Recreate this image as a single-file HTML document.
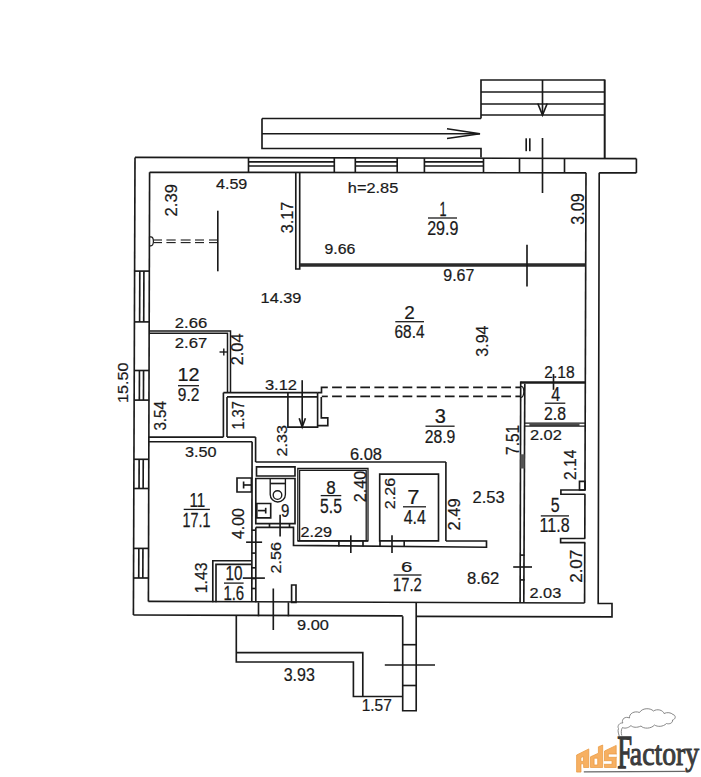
<!DOCTYPE html>
<html><head><meta charset="utf-8"><style>
html,body{margin:0;padding:0;background:#fff;}
svg{display:block;}
text{font-family:"Liberation Sans",sans-serif;}
</style></head><body>
<svg width="701" height="777" viewBox="0 0 701 777">
<rect width="701" height="777" fill="#ffffff"/>
<path d="M481,118.5 L481,80 L604.7,80" fill="none" stroke="#1a1a1a" stroke-width="1.65" stroke-linejoin="miter"/>
<line x1="604.7" y1="79.5" x2="604.7" y2="158.3" stroke="#1a1a1a" stroke-width="2" />
<line x1="481" y1="92" x2="604.7" y2="92" stroke="#1a1a1a" stroke-width="1.65" />
<line x1="481" y1="104" x2="604.7" y2="104" stroke="#1a1a1a" stroke-width="1.65" />
<line x1="481" y1="115" x2="604.7" y2="115" stroke="#1a1a1a" stroke-width="1.65" />
<line x1="542.5" y1="80" x2="542.5" y2="115" stroke="#1a1a1a" stroke-width="1.65" />
<path d="M537.8,103.5 L542.5,115 L547.2,103.5" fill="none" stroke="#1a1a1a" stroke-width="1.65" stroke-linejoin="miter"/>
<line x1="262" y1="118.5" x2="481" y2="118.5" stroke="#1a1a1a" stroke-width="1.65" />
<path d="M481,157.5 L481,148.5 L262,148.5 L262,118.5" fill="none" stroke="#1a1a1a" stroke-width="1.65" stroke-linejoin="miter"/>
<line x1="262" y1="133.7" x2="480" y2="133.7" stroke="#1a1a1a" stroke-width="1.65" />
<path d="M447,128.8 L480,133.7 L447,138.5" fill="none" stroke="#1a1a1a" stroke-width="1.65" stroke-linejoin="miter"/>
<line x1="542.5" y1="138" x2="542.5" y2="193" stroke="#1a1a1a" stroke-width="1.65" />
<line x1="526.2" y1="138.3" x2="526.2" y2="151.2" stroke="#1a1a1a" stroke-width="1.65" />
<line x1="529.8" y1="138.3" x2="529.8" y2="151.2" stroke="#1a1a1a" stroke-width="1.65" />
<line x1="135.0" y1="157.4" x2="636.4" y2="158.6" stroke="#1a1a1a" stroke-width="1.65" />
<line x1="149.6" y1="172.3" x2="586.0" y2="172.8" stroke="#1a1a1a" stroke-width="1.65" />
<line x1="599.2" y1="172.8" x2="636.4" y2="172.9" stroke="#1a1a1a" stroke-width="1.65" />
<line x1="636.4" y1="158.6" x2="636.4" y2="172.9" stroke="#1a1a1a" stroke-width="1.65" />
<line x1="248.5" y1="157.6736" x2="248.5" y2="172.40945000000002" stroke="#1a1a1a" stroke-width="1.65" />
<line x1="334.3" y1="157.87952" x2="334.3" y2="172.50383000000002" stroke="#1a1a1a" stroke-width="1.65" />
<line x1="355.3" y1="157.92992" x2="355.3" y2="172.52693000000002" stroke="#1a1a1a" stroke-width="1.65" />
<line x1="397.2" y1="158.03048" x2="397.2" y2="172.57302" stroke="#1a1a1a" stroke-width="1.65" />
<line x1="424.4" y1="158.09576" x2="424.4" y2="172.60294000000002" stroke="#1a1a1a" stroke-width="1.65" />
<line x1="483.5" y1="158.23760000000001" x2="483.5" y2="172.66795000000002" stroke="#1a1a1a" stroke-width="1.65" />
<line x1="519.5" y1="158.324" x2="519.5" y2="172.70755" stroke="#1a1a1a" stroke-width="1.65" />
<line x1="564.5" y1="158.43200000000002" x2="564.5" y2="172.75705000000002" stroke="#1a1a1a" stroke-width="1.65" />
<line x1="248.5" y1="161.8" x2="334.3" y2="161.8" stroke="#1a1a1a" stroke-width="1.65" />
<line x1="248.5" y1="166" x2="334.3" y2="166" stroke="#1a1a1a" stroke-width="1.65" />
<line x1="355.3" y1="161.8" x2="397.2" y2="161.8" stroke="#1a1a1a" stroke-width="1.65" />
<line x1="355.3" y1="166" x2="397.2" y2="166" stroke="#1a1a1a" stroke-width="1.65" />
<line x1="424.4" y1="161.8" x2="483.5" y2="161.8" stroke="#1a1a1a" stroke-width="1.65" />
<line x1="424.4" y1="166" x2="483.5" y2="166" stroke="#1a1a1a" stroke-width="1.65" />
<line x1="135.0" y1="157.4" x2="133.3984" y2="615" stroke="#1a1a1a" stroke-width="1.65" />
<line x1="149.6" y1="172.3" x2="148.39852" y2="601.4" stroke="#1a1a1a" stroke-width="1.65" />
<line x1="134.60205" y1="271.1" x2="149.32336" y2="271.1" stroke="#1a1a1a" stroke-width="1.65" />
<line x1="134.42425" y1="321.9" x2="149.18112" y2="321.9" stroke="#1a1a1a" stroke-width="1.65" />
<line x1="139.80204999999998" y1="271.1" x2="139.62425" y2="321.9" stroke="#1a1a1a" stroke-width="1.65" />
<line x1="143.90205" y1="271.1" x2="143.72425" y2="321.9" stroke="#1a1a1a" stroke-width="1.65" />
<line x1="134.25415" y1="370.5" x2="149.04504" y2="370.5" stroke="#1a1a1a" stroke-width="1.65" />
<line x1="134.15055" y1="400.1" x2="148.96215999999998" y2="400.1" stroke="#1a1a1a" stroke-width="1.65" />
<line x1="139.45415" y1="370.5" x2="139.35055" y2="400.1" stroke="#1a1a1a" stroke-width="1.65" />
<line x1="143.55415000000002" y1="370.5" x2="143.45055000000002" y2="400.1" stroke="#1a1a1a" stroke-width="1.65" />
<line x1="133.94335" y1="459.3" x2="148.7964" y2="459.3" stroke="#1a1a1a" stroke-width="1.65" />
<line x1="133.84115" y1="488.5" x2="148.71464" y2="488.5" stroke="#1a1a1a" stroke-width="1.65" />
<line x1="139.14335" y1="459.3" x2="139.04115" y2="488.5" stroke="#1a1a1a" stroke-width="1.65" />
<line x1="143.24335000000002" y1="459.3" x2="143.14115" y2="488.5" stroke="#1a1a1a" stroke-width="1.65" />
<line x1="133.6315" y1="548.4" x2="148.54692" y2="548.4" stroke="#1a1a1a" stroke-width="1.65" />
<line x1="133.5279" y1="578.0" x2="148.46403999999998" y2="578.0" stroke="#1a1a1a" stroke-width="1.65" />
<line x1="138.83149999999998" y1="548.4" x2="138.72789999999998" y2="578.0" stroke="#1a1a1a" stroke-width="1.65" />
<line x1="142.9315" y1="548.4" x2="142.8279" y2="578.0" stroke="#1a1a1a" stroke-width="1.65" />
<line x1="586.0" y1="172.8" x2="584.95324" y2="490" stroke="#1a1a1a" stroke-width="1.65" />
<line x1="584.93938" y1="494.2" x2="584.79319" y2="538.5" stroke="#1a1a1a" stroke-width="1.65" />
<line x1="584.77966" y1="542.6" x2="584.58034" y2="603" stroke="#1a1a1a" stroke-width="1.65" />
<path d="M599.2,172.8 L598.2093900000001,603.5 L612,603.5 L612,616.8 L416.2,616.4" fill="none" stroke="#1a1a1a" stroke-width="1.65" stroke-linejoin="miter"/>
<line x1="133.3984" y1="615" x2="402.7" y2="615.9" stroke="#1a1a1a" stroke-width="1.65" />
<line x1="148.39852" y1="601.4" x2="584.58034" y2="603" stroke="#1a1a1a" stroke-width="1.65" />
<line x1="258.5" y1="602.3" x2="258.5" y2="616.3" stroke="#1a1a1a" stroke-width="1.65" />
<line x1="288.4" y1="602.3" x2="288.4" y2="616.3" stroke="#1a1a1a" stroke-width="1.65" />
<path d="M291.6,585 L296,585 L296,602.3 L291.6,602.3Z" fill="none" stroke="#1a1a1a" stroke-width="1.65" stroke-linejoin="miter"/>
<line x1="273.3" y1="588.5" x2="273.3" y2="630" stroke="#1a1a1a" stroke-width="1.65" />
<path d="M236.3,615.5 L236.3,662 L353.4,662 L353.4,696.5 L402.7,696.5" fill="none" stroke="#1a1a1a" stroke-width="1.65" stroke-linejoin="miter"/>
<path d="M236.3,652.6 L362.8,652.6 L362.8,696.5" fill="none" stroke="#1a1a1a" stroke-width="1.65" stroke-linejoin="miter"/>
<path d="M402.7,616.3 L402.7,710.7 L416.2,710.7 L416.2,602.5" fill="none" stroke="#1a1a1a" stroke-width="1.65" stroke-linejoin="miter"/>
<line x1="402.7" y1="644.7" x2="416.2" y2="644.7" stroke="#1a1a1a" stroke-width="1.65" />
<line x1="402.7" y1="685.5" x2="416.2" y2="685.5" stroke="#1a1a1a" stroke-width="1.65" />
<line x1="384.8" y1="665" x2="435" y2="665" stroke="#1a1a1a" stroke-width="1.65" />
<path d="M295.8,172.5 L295.8,269 L299.7,269 L299.7,172.5" fill="none" stroke="#1a1a1a" stroke-width="1.65" stroke-linejoin="miter"/>
<line x1="299.7" y1="265" x2="585.3" y2="265" stroke="#2a2a2a" stroke-width="3.4" />
<line x1="527" y1="244.7" x2="527" y2="286.4" stroke="#1a1a1a" stroke-width="1.65" />
<line x1="153.6" y1="240" x2="162" y2="240" stroke="#1a1a1a" stroke-width="1.1" />
<line x1="153.6" y1="242.6" x2="162" y2="242.6" stroke="#1a1a1a" stroke-width="1.1" />
<line x1="166.4" y1="240" x2="175.7" y2="240" stroke="#1a1a1a" stroke-width="1.1" />
<line x1="166.4" y1="242.6" x2="175.7" y2="242.6" stroke="#1a1a1a" stroke-width="1.1" />
<line x1="180.7" y1="240" x2="190.6" y2="240" stroke="#1a1a1a" stroke-width="1.1" />
<line x1="180.7" y1="242.6" x2="190.6" y2="242.6" stroke="#1a1a1a" stroke-width="1.1" />
<line x1="195" y1="240" x2="204" y2="240" stroke="#1a1a1a" stroke-width="1.1" />
<line x1="195" y1="242.6" x2="204" y2="242.6" stroke="#1a1a1a" stroke-width="1.1" />
<line x1="209" y1="240" x2="217.8" y2="240" stroke="#1a1a1a" stroke-width="1.1" />
<line x1="209" y1="242.6" x2="217.8" y2="242.6" stroke="#1a1a1a" stroke-width="1.1" />
<path d="M149.5,236.8 h1.3 a2.6,4.5 0 0 1 0,9 h-1.3" fill="none" stroke="#1a1a1a" stroke-width="1.2"/>
<line x1="217.8" y1="210.7" x2="217.8" y2="271.3" stroke="#1a1a1a" stroke-width="1.65" />
<path d="M149,331.1 L230.5,331.1 L230.5,392.6" fill="none" stroke="#1a1a1a" stroke-width="1.5" stroke-linejoin="miter"/>
<path d="M149,333.3 L227.5,333.3 L227.5,392.6" fill="none" stroke="#1a1a1a" stroke-width="1.5" stroke-linejoin="miter"/>
<line x1="219.5" y1="352" x2="227.5" y2="352" stroke="#1a1a1a" stroke-width="1.4" />
<line x1="223.8" y1="348.5" x2="223.8" y2="355.5" stroke="#1a1a1a" stroke-width="1.4" />
<line x1="223.4" y1="392.6" x2="317.6" y2="392.6" stroke="#1a1a1a" stroke-width="1.65" />
<line x1="227" y1="396.9" x2="317.6" y2="396.9" stroke="#1a1a1a" stroke-width="1.65" />
<line x1="223.4" y1="392.6" x2="223.4" y2="437.1" stroke="#1a1a1a" stroke-width="1.65" />
<line x1="227" y1="396.9" x2="227" y2="437.1" stroke="#1a1a1a" stroke-width="1.65" />
<line x1="149" y1="437.1" x2="223.4" y2="437.1" stroke="#1a1a1a" stroke-width="1.65" />
<line x1="227" y1="437.1" x2="255.6" y2="437.1" stroke="#1a1a1a" stroke-width="1.65" />
<line x1="149" y1="441.7" x2="252.1" y2="441.7" stroke="#1a1a1a" stroke-width="1.65" />
<line x1="252.1" y1="441.7" x2="251.8" y2="601.6" stroke="#1a1a1a" stroke-width="1.65" />
<line x1="255.6" y1="437.1" x2="255.6" y2="462" stroke="#1a1a1a" stroke-width="1.65" />
<line x1="255.6" y1="462" x2="445.9" y2="462" stroke="#1a1a1a" stroke-width="1.65" />
<line x1="445.9" y1="462" x2="445.9" y2="541" stroke="#1a1a1a" stroke-width="1.65" />
<path d="M287.9,392.6 L287.9,427.1 L317.6,427.1 L317.6,392.6" fill="none" stroke="#1a1a1a" stroke-width="1.65" stroke-linejoin="miter"/>
<line x1="302.2" y1="380.2" x2="302.2" y2="427.1" stroke="#1a1a1a" stroke-width="1.65" />
<path d="M299.2,418.3 L302.2,427.1 L305.4,418.3" fill="none" stroke="#1a1a1a" stroke-width="1.65" stroke-linejoin="miter"/>
<path d="M317.6,392.6 L321.5,392.6 L321.5,387.3 L327.8,387.3" fill="none" stroke="#1a1a1a" stroke-width="1.65" stroke-linejoin="miter"/>
<path d="M321.3,396.9 L321.3,417.8 L327.8,417.8 L327.8,425.6 L317.6,425.6" fill="none" stroke="#1a1a1a" stroke-width="1.65" stroke-linejoin="miter"/>
<line x1="332.1" y1="387.3" x2="520.5" y2="387.3" stroke="#1a1a1a" stroke-width="1.65" stroke-dasharray="9.7 4.4"/>
<line x1="332.1" y1="396.4" x2="520.5" y2="396.4" stroke="#1a1a1a" stroke-width="1.65" stroke-dasharray="9.7 4.4"/>
<path d="M321.8,396.4 L327.8,396.4" fill="none" stroke="#1a1a1a" stroke-width="1.65" stroke-linejoin="miter"/>
<path d="M520.4,386.3 h0.8 a2.6,5.5 0 0 1 0,11 h-0.8" fill="none" stroke="#1a1a1a" stroke-width="1.2"/>
<path d="M212.8,602.3 L212.8,560.7 L251.7,560.7" fill="none" stroke="#1a1a1a" stroke-width="1.65" stroke-linejoin="miter"/>
<path d="M216,602.3 L216,564.3 L251.7,564.3" fill="none" stroke="#1a1a1a" stroke-width="1.65" stroke-linejoin="miter"/>
<path d="M237,478 L251.4,478 L251.4,492 L237,492Z" fill="none" stroke="#1a1a1a" stroke-width="1.65" stroke-linejoin="miter"/>
<line x1="243.6" y1="485" x2="251.4" y2="485" stroke="#1a1a1a" stroke-width="1.65" />
<line x1="243.6" y1="481.5" x2="243.6" y2="488.5" stroke="#1a1a1a" stroke-width="1.65" />
<line x1="255.8" y1="527.4" x2="255.8" y2="602.3" stroke="#1a1a1a" stroke-width="1.65" />
<line x1="251.7" y1="530.2" x2="255.8" y2="530.2" stroke="#1a1a1a" stroke-width="1.65" />
<line x1="251.7" y1="553.1" x2="255.8" y2="553.1" stroke="#1a1a1a" stroke-width="1.65" />
<line x1="251.7" y1="567.8" x2="255.8" y2="567.8" stroke="#1a1a1a" stroke-width="1.65" />
<line x1="251.7" y1="578.5" x2="255.8" y2="578.5" stroke="#1a1a1a" stroke-width="1.65" />
<line x1="251.7" y1="588.5" x2="255.8" y2="588.5" stroke="#1a1a1a" stroke-width="1.65" />
<line x1="246.1" y1="542.2" x2="262.1" y2="542.2" stroke="#1a1a1a" stroke-width="1.65" />
<line x1="242.8" y1="578.1" x2="264.9" y2="578.1" stroke="#1a1a1a" stroke-width="1.65" />
<path d="M256.5,466.8 L295,466.8 L295,476 L256.5,476Z" fill="none" stroke="#1a1a1a" stroke-width="1.65" stroke-linejoin="miter"/>
<path d="M255.8,478.5 L295,478.5 L295,523.6 L255.8,523.6Z" fill="none" stroke="#1a1a1a" stroke-width="1.65" stroke-linejoin="miter"/>
<path d="M270.2,479 V494.4 A7.6,7.6 0 0 0 285.4,494.4 V479" fill="none" stroke="#1a1a1a" stroke-width="1.35"/>
<line x1="270.2" y1="483.5" x2="285.4" y2="483.5" stroke="#1a1a1a" stroke-width="1.65" />
<circle cx="277.5" cy="495" r="4.3" fill="none" stroke="#1a1a1a" stroke-width="1.35"/>
<path d="M256.8,503.5 L270.7,503.5 L270.7,517.8 L256.8,517.8Z" fill="none" stroke="#1a1a1a" stroke-width="1.65" stroke-linejoin="miter"/>
<line x1="257.8" y1="510.6" x2="265.7" y2="510.6" stroke="#1a1a1a" stroke-width="1.65" />
<line x1="265.7" y1="507.8" x2="265.7" y2="513.5" stroke="#1a1a1a" stroke-width="1.65" />
<path d="M255.8,527.4 L293.5,527.4 L293.5,545.4 L486.5,547.2 L486.5,541 L445.9,541" fill="none" stroke="#1a1a1a" stroke-width="1.65" stroke-linejoin="miter"/>
<line x1="269.5" y1="523.6" x2="269.5" y2="527.4" stroke="#1a1a1a" stroke-width="1.65" />
<line x1="289.5" y1="523.6" x2="289.5" y2="527.4" stroke="#1a1a1a" stroke-width="1.65" />
<line x1="280.1" y1="514.8" x2="280.1" y2="536.5" stroke="#1a1a1a" stroke-width="1.65" />
<path d="M297.8,468.5 L368,468.5 L368,540.9 L297.8,540.9Z" fill="none" stroke="#1a1a1a" stroke-width="1.3" stroke-linejoin="miter"/>
<path d="M299.6,540.9 L299.6,470.3 L366.2,470.3 L366.2,540.9" fill="none" stroke="#1a1a1a" stroke-width="1.3" stroke-linejoin="miter"/>
<line x1="297.8" y1="540.9" x2="368" y2="540.9" stroke="#1a1a1a" stroke-width="1.65" />
<path d="M379.7,474.1 L438.5,474.1 L438.5,540.9 L379.7,540.9Z" fill="none" stroke="#1a1a1a" stroke-width="1.65" stroke-linejoin="miter"/>
<line x1="338.9" y1="540.9" x2="338.9" y2="546.5" stroke="#1a1a1a" stroke-width="1.65" />
<line x1="363" y1="540.9" x2="363" y2="546.5" stroke="#1a1a1a" stroke-width="1.65" />
<line x1="380" y1="540.9" x2="380" y2="546.5" stroke="#1a1a1a" stroke-width="1.65" />
<line x1="404.2" y1="540.9" x2="404.2" y2="546.5" stroke="#1a1a1a" stroke-width="1.65" />
<line x1="350.8" y1="535.3" x2="350.8" y2="553" stroke="#1a1a1a" stroke-width="1.65" />
<line x1="392" y1="535.3" x2="392" y2="553" stroke="#1a1a1a" stroke-width="1.65" />
<line x1="520.7" y1="381.5" x2="520.1" y2="602.8" stroke="#1a1a1a" stroke-width="1.65" />
<line x1="524.8" y1="383.7" x2="523.8" y2="602.8" stroke="#1a1a1a" stroke-width="1.65" />
<line x1="520.4" y1="382.5" x2="585.3" y2="382.5" stroke="#1a1a1a" stroke-width="2.6" />
<line x1="524.6" y1="423.1" x2="585.3" y2="423.1" stroke="#1a1a1a" stroke-width="1.3" />
<rect x="529.4" y="423.3" width="50.1" height="2.6" fill="#4a4a4a"/>
<line x1="524.6" y1="426.1" x2="585.3" y2="426.1" stroke="#1a1a1a" stroke-width="1.3" />
<rect x="520.4" y="454.3" width="4.2" height="14.2" fill="#555"/>
<line x1="520.4" y1="555.1" x2="524.6" y2="555.1" stroke="#1a1a1a" stroke-width="1.65" />
<line x1="520.4" y1="579.9" x2="524.6" y2="579.9" stroke="#1a1a1a" stroke-width="1.65" />
<line x1="513.2" y1="567" x2="532" y2="567" stroke="#1a1a1a" stroke-width="1.65" />
<line x1="553.5" y1="374" x2="553.5" y2="389.8" stroke="#1a1a1a" stroke-width="1.65" />
<path d="M579.5,481.4 L585,481.4 L585,490 L579.5,490Z" fill="none" stroke="#1a1a1a" stroke-width="1.65" stroke-linejoin="miter"/>
<path d="M585.3,490 L560.9,490 L560.9,494.2 L585.3,494.2" fill="none" stroke="#1a1a1a" stroke-width="1.65" stroke-linejoin="miter"/>
<path d="M585.3,538.5 L560.6,538.5 L560.6,542.6 L585.3,542.6" fill="none" stroke="#1a1a1a" stroke-width="1.65" stroke-linejoin="miter"/>
<text transform="matrix(0.8059 0 0 0.7465 215.98 189.45)" font-size="20" fill="#1a1a1a"  stroke="#1a1a1a" stroke-width="0.284">4.59</text>
<text transform="matrix(0.8168 0 0 0.7007 347.86 192.76)" font-size="20" fill="#1a1a1a"  stroke="#1a1a1a" stroke-width="0.291">h=2.85</text>
<text transform="matrix(0.7930 0 0 0.7746 324.49 254.35)" font-size="20" fill="#1a1a1a"  stroke="#1a1a1a" stroke-width="0.281">9.66</text>
<text transform="matrix(0.8000 0 0 0.8662 443.28 280.53)" font-size="20" fill="#1a1a1a"  stroke="#1a1a1a" stroke-width="0.264">9.67</text>
<text transform="matrix(0.8151 0 0 0.7606 260.58 302.65)" font-size="20" fill="#1a1a1a"  stroke="#1a1a1a" stroke-width="0.279">14.39</text>
<text transform="matrix(0.8329 0 0 0.7042 174.77 328.36)" font-size="20" fill="#1a1a1a"  stroke="#1a1a1a" stroke-width="0.287">2.66</text>
<text transform="matrix(0.8374 0 0 0.7676 174.76 348.35)" font-size="20" fill="#1a1a1a"  stroke="#1a1a1a" stroke-width="0.274">2.67</text>
<text transform="matrix(0.8248 0 0 0.6901 264.94 389.86)" font-size="20" fill="#1a1a1a"  stroke="#1a1a1a" stroke-width="0.292">3.12</text>
<text transform="matrix(0.8128 0 0 0.7324 184.95 457.25)" font-size="20" fill="#1a1a1a"  stroke="#1a1a1a" stroke-width="0.285">3.50</text>
<text transform="matrix(0.8221 0 0 0.8169 349.98 459.84)" font-size="20" fill="#1a1a1a"  stroke="#1a1a1a" stroke-width="0.268">6.08</text>
<text transform="matrix(0.7817 0 0 0.8099 544.22 378.34)" font-size="20" fill="#1a1a1a"  stroke="#1a1a1a" stroke-width="0.277">2.18</text>
<text transform="matrix(0.8211 0 0 0.7746 529.88 440.35)" font-size="20" fill="#1a1a1a"  stroke="#1a1a1a" stroke-width="0.276">2.02</text>
<text transform="matrix(0.8275 0 0 0.8380 472.57 503.13)" font-size="20" fill="#1a1a1a"  stroke="#1a1a1a" stroke-width="0.264">2.53</text>
<text transform="matrix(0.8108 0 0 0.7042 300.49 536.86)" font-size="20" fill="#1a1a1a"  stroke="#1a1a1a" stroke-width="0.291">2.29</text>
<text transform="matrix(0.8324 0 0 0.8169 466.95 583.84)" font-size="20" fill="#1a1a1a"  stroke="#1a1a1a" stroke-width="0.267">8.62</text>
<text transform="matrix(0.8167 0 0 0.7746 529.48 598.15)" font-size="20" fill="#1a1a1a"  stroke="#1a1a1a" stroke-width="0.277">2.03</text>
<text transform="matrix(0.8177 0 0 0.7746 297.06 630.45)" font-size="20" fill="#1a1a1a"  stroke="#1a1a1a" stroke-width="0.276">9.00</text>
<text transform="matrix(0.8016 0 0 0.8803 283.66 680.62)" font-size="20" fill="#1a1a1a"  stroke="#1a1a1a" stroke-width="0.262">3.93</text>
<text transform="matrix(0.7747 0 0 0.7857 361.64 710.54)" font-size="20" fill="#1a1a1a"  stroke="#1a1a1a" stroke-width="0.282">1.57</text>
<text transform="matrix(0 -0.8351 0.8169 0 177.04 216.44)" font-size="20" fill="#1a1a1a"  stroke="#1a1a1a" stroke-width="0.266">2.39</text>
<text transform="matrix(0 -0.8167 0.8451 0 293.43 233.35)" font-size="20" fill="#1a1a1a"  stroke="#1a1a1a" stroke-width="0.265">3.17</text>
<text transform="matrix(0 -0.8065 0.9155 0 583.82 224.65)" font-size="20" fill="#1a1a1a"  stroke="#1a1a1a" stroke-width="0.256">3.09</text>
<text transform="matrix(0 -0.8000 0.8239 0 487.54 356.64)" font-size="20" fill="#1a1a1a"  stroke="#1a1a1a" stroke-width="0.271">3.94</text>
<text transform="matrix(0 -0.8177 0.8380 0 243.23 365.32)" font-size="20" fill="#1a1a1a"  stroke="#1a1a1a" stroke-width="0.266">2.04</text>
<text transform="matrix(0 -0.7627 0.8028 0 165.54 430.61)" font-size="20" fill="#1a1a1a"  stroke="#1a1a1a" stroke-width="0.281">3.54</text>
<text transform="matrix(0 -0.7280 0.7958 0 243.84 429.59)" font-size="20" fill="#1a1a1a"  stroke="#1a1a1a" stroke-width="0.289">1.37</text>
<text transform="matrix(0 -0.8086 0.7746 0 286.85 456.41)" font-size="20" fill="#1a1a1a"  stroke="#1a1a1a" stroke-width="0.278">2.33</text>
<text transform="matrix(0 -0.7730 0.8786 0 519.12 454.97)" font-size="20" fill="#1a1a1a"  stroke="#1a1a1a" stroke-width="0.267">7.51</text>
<text transform="matrix(0 -0.7828 0.8214 0 575.80 479.98)" font-size="20" fill="#1a1a1a"  stroke="#1a1a1a" stroke-width="0.274">2.14</text>
<text transform="matrix(0 -0.8065 0.8028 0 366.24 502.21)" font-size="20" fill="#1a1a1a"  stroke="#1a1a1a" stroke-width="0.273">2.40</text>
<text transform="matrix(0 -0.8086 0.7746 0 394.85 509.31)" font-size="20" fill="#1a1a1a"  stroke="#1a1a1a" stroke-width="0.278">2.26</text>
<text transform="matrix(0 -0.8243 0.8451 0 460.03 530.52)" font-size="20" fill="#1a1a1a"  stroke="#1a1a1a" stroke-width="0.264">2.49</text>
<text transform="matrix(0 -0.7910 0.7887 0 244.04 538.92)" font-size="20" fill="#1a1a1a"  stroke="#1a1a1a" stroke-width="0.279">4.00</text>
<text transform="matrix(0 -0.8086 0.7746 0 281.35 573.51)" font-size="20" fill="#1a1a1a"  stroke="#1a1a1a" stroke-width="0.278">2.56</text>
<text transform="matrix(0 -0.7923 0.7817 0 207.14 593.19)" font-size="20" fill="#1a1a1a"  stroke="#1a1a1a" stroke-width="0.280">1.43</text>
<text transform="matrix(0 -0.8537 0.8310 0 582.43 582.85)" font-size="20" fill="#1a1a1a"  stroke="#1a1a1a" stroke-width="0.261">2.07</text>
<text transform="matrix(0 -0.8075 0.7676 0 128.15 403.01)" font-size="20" fill="#1a1a1a"  stroke="#1a1a1a" stroke-width="0.279">15.50</text>
<text transform="matrix(0.6322 0 0 0.9855 439.55 215.60)" font-size="20" fill="#1a1a1a"  stroke="#1a1a1a" stroke-width="0.279">1</text>
<text transform="matrix(0.8027 0 0 1.0000 427.20 234.80)" font-size="20" fill="#1a1a1a"  stroke="#1a1a1a" stroke-width="0.246">29.9</text>
<line x1="428" y1="218" x2="457" y2="218" stroke="#1a1a1a" stroke-width="1.3" />
<text transform="matrix(0.9451 0 0 0.9429 404.35 318.50)" font-size="20" fill="#1a1a1a"  stroke="#1a1a1a" stroke-width="0.233">2</text>
<text transform="matrix(0.7694 0 0 0.9296 394.53 338.01)" font-size="20" fill="#1a1a1a"  stroke="#1a1a1a" stroke-width="0.260">68.4</text>
<line x1="395.3" y1="321.7" x2="424" y2="321.7" stroke="#1a1a1a" stroke-width="1.3" />
<text transform="matrix(1.0000 0 0 1.0423 434.70 423.09)" font-size="20" fill="#1a1a1a"  stroke="#1a1a1a" stroke-width="0.215">3</text>
<text transform="matrix(0.7865 0 0 0.9366 424.71 443.11)" font-size="20" fill="#1a1a1a"  stroke="#1a1a1a" stroke-width="0.256">28.9</text>
<line x1="425.5" y1="426.2" x2="454.6" y2="426.2" stroke="#1a1a1a" stroke-width="1.3" />
<text transform="matrix(0.8020 0 0 0.9783 551.18 400.70)" font-size="20" fill="#1a1a1a"  stroke="#1a1a1a" stroke-width="0.248">4</text>
<text transform="matrix(0.7885 0 0 0.9085 544.01 420.42)" font-size="20" fill="#1a1a1a"  stroke="#1a1a1a" stroke-width="0.260">2.8</text>
<line x1="544.8" y1="403.2" x2="565.3" y2="403.2" stroke="#1a1a1a" stroke-width="1.3" />
<text transform="matrix(0.8000 0 0 1.0357 550.76 512.29)" font-size="20" fill="#1a1a1a"  stroke="#1a1a1a" stroke-width="0.242">5</text>
<text transform="matrix(0.8034 0 0 1.0211 539.59 532.30)" font-size="20" fill="#1a1a1a"  stroke="#1a1a1a" stroke-width="0.243">11.8</text>
<line x1="540.8" y1="515.9" x2="569" y2="515.9" stroke="#1a1a1a" stroke-width="1.3" />
<text transform="matrix(1.0215 0 0 0.7746 400.98 572.35)" font-size="20" fill="#1a1a1a"  stroke="#1a1a1a" stroke-width="0.247">6</text>
<text transform="matrix(0.7363 0 0 0.9571 393.10 591.40)" font-size="20" fill="#1a1a1a"  stroke="#1a1a1a" stroke-width="0.262">17.2</text>
<line x1="393.6" y1="575" x2="421.5" y2="575" stroke="#1a1a1a" stroke-width="1.3" />
<text transform="matrix(1.0989 0 0 0.9710 407.20 504.20)" font-size="20" fill="#1a1a1a"  stroke="#1a1a1a" stroke-width="0.213">7</text>
<text transform="matrix(0.7985 0 0 0.9855 403.68 523.60)" font-size="20" fill="#1a1a1a"  stroke="#1a1a1a" stroke-width="0.248">4.4</text>
<line x1="403" y1="506.8" x2="426" y2="506.8" stroke="#1a1a1a" stroke-width="1.3" />
<text transform="matrix(0.8511 0 0 0.8944 326.23 494.02)" font-size="20" fill="#1a1a1a"  stroke="#1a1a1a" stroke-width="0.252">8</text>
<text transform="matrix(0.7863 0 0 1.0214 320.07 513.10)" font-size="20" fill="#1a1a1a"  stroke="#1a1a1a" stroke-width="0.245">5.5</text>
<line x1="320.7" y1="495.6" x2="341.3" y2="495.6" stroke="#1a1a1a" stroke-width="1.3" />
<text transform="matrix(0.7650 0 0 1.0352 225.45 580.29)" font-size="20" fill="#1a1a1a"  stroke="#1a1a1a" stroke-width="0.247">10</text>
<text transform="matrix(0.7490 0 0 0.9789 223.38 599.70)" font-size="20" fill="#1a1a1a"  stroke="#1a1a1a" stroke-width="0.257">1.6</text>
<line x1="224" y1="583.1" x2="243.6" y2="583.1" stroke="#1a1a1a" stroke-width="1.3" />
<text transform="matrix(0.7596 0 0 0.9710 189.46 507.10)" font-size="20" fill="#1a1a1a"  stroke="#1a1a1a" stroke-width="0.256">11</text>
<text transform="matrix(0.7178 0 0 1.0000 182.62 526.80)" font-size="20" fill="#1a1a1a"  stroke="#1a1a1a" stroke-width="0.260">17.1</text>
<line x1="183.7" y1="509.4" x2="209.9" y2="509.4" stroke="#1a1a1a" stroke-width="1.3" />
<text transform="matrix(0.9898 0 0 0.9214 177.52 381.30)" font-size="20" fill="#1a1a1a"  stroke="#1a1a1a" stroke-width="0.230">12</text>
<text transform="matrix(0.7722 0 0 0.9085 177.81 401.22)" font-size="20" fill="#1a1a1a"  stroke="#1a1a1a" stroke-width="0.263">9.2</text>
<line x1="178" y1="385.7" x2="199" y2="385.7" stroke="#1a1a1a" stroke-width="1.3" />
<text transform="matrix(0.7527 0 0 0.9155 280.92 516.62)" font-size="20" fill="#1a1a1a"  stroke="#1a1a1a" stroke-width="0.265">9</text>
<text transform="matrix(1.3265 0 0 2.3282 617.20 767.50)" font-size="20" fill="#383838" style="font-family:'Liberation Serif'" stroke="#383838" stroke-width="0.6">F</text>
<text transform="matrix(1.3862 0 0 1.6987 629.83 764.70)" font-size="20" fill="#404040" style="font-family:'Liberation Serif'" stroke="#383838" stroke-width="0.6">actory</text>

<g stroke-linejoin="miter">
<path d="M576.6,755 L588.8,748.9 L588.8,767.5 L583.6,767.5 L583.6,763.8 L581,763.8 L581,772.1 L576.6,772.1 Z M580.9,757.6 L583.4,756.5 L583.4,761.4 L580.9,761.4 Z" fill="#f7b062" fill-rule="evenodd" stroke="#e8963c" stroke-width="0.7"/>
<path d="M590.5,756.8 L598.4,753.2 L598.4,746.8 L602.7,745 L602.7,767.5 L590.5,767.5 Z M594.1,758.2 L597.7,758.2 L597.7,765 L594.1,765 Z" fill="#f7b062" fill-rule="evenodd" stroke="#e8963c" stroke-width="0.7"/>
<path d="M604.5,751 L616.2,745.4 L616.2,767.5 L604.5,767.5 Z" fill="#f7b062" stroke="#e8963c" stroke-width="0.7"/>
<path d="M616.8,754 H608.3 V757.3 H616.8 M603.9,760.7 H612 V764.3 H603.9" fill="#fff" stroke="#e8963c" stroke-width="0.7"/>
<line x1="583.8" y1="771.9" x2="685.3" y2="771.4" stroke="#666" stroke-width="1.4"/>
<path d="M619.2,736 C618.5,733 617.5,731 618.5,728.5 C617,726 619.5,722.5 622.8,723 C621,719 625.5,716 629.5,718 C629,713.5 634.5,710.5 639.5,712.5 C642,708 650,707.5 653.5,711 C657,708.5 663,710 664,713.5 C667,712 671,712.5 673,714.5 C676.5,715.5 675.5,719.5 672.5,720 C673,723 669.5,724.5 666.5,723.5 C663,727 657.5,727 654.5,725 C651,729 643.5,729 641,726 C637,728 632.5,727.5 631,725.5 C628,728.5 624,728.5 622.5,727.5 C621,729.5 621,733 621.8,735.5" fill="none" stroke="#7a7a7a" stroke-width="0.9"/>
</g>

</svg></body></html>
